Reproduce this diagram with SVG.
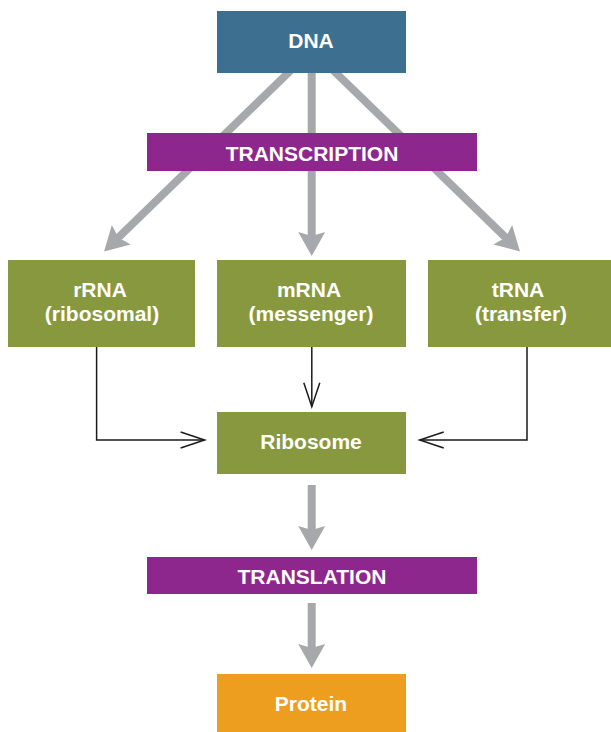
<svg xmlns="http://www.w3.org/2000/svg" width="611" height="732" viewBox="0 0 611 732">
<style>
.t{font-family:"Liberation Sans",Arial,sans-serif;font-weight:bold;font-size:21px;fill:#ffffff;text-anchor:middle}
.g{stroke:#a7a8ab;stroke-width:8;fill:none;marker-end:url(#ga)}
.k{stroke:#1a1a1a;stroke-width:1.5;fill:none;marker-end:url(#ka)}
.blue{fill:#3d7090}.purple{fill:#8d278e}.green{fill:#87983e}.orange{fill:#ee9e1f}
</style>
<defs>
<marker id="ga" markerUnits="userSpaceOnUse" orient="auto" refX="0" refY="0" markerWidth="40" markerHeight="40" overflow="visible">
<path d="M10,0 L-14,-13.5 L-10,0 L-14,13.5 Z" fill="#a7a8ab"/>
</marker>
<marker id="ka" markerUnits="userSpaceOnUse" orient="auto" refX="0" refY="0" markerWidth="40" markerHeight="40" overflow="visible">
<path d="M-24,-8 L0,0 L-24,8" fill="none" stroke="#1a1a1a" stroke-width="1.5"/>
</marker>
</defs>
<g id="connectors">
<line class="g" x1="295.2" y1="66" x2="111.2" y2="244.5"/>
<line class="g" x1="311.7" y1="70" x2="311.7" y2="246"/>
<line class="g" x1="328.8" y1="66" x2="512.8" y2="244.5"/>
<line class="g" x1="311.7" y1="485" x2="311.7" y2="540"/>
<line class="g" x1="311.7" y1="603" x2="311.7" y2="658"/>
<path class="k" d="M96.6,347 V440 H204.6"/>
<path class="k" d="M311.8,347 V406.7"/>
<path class="k" d="M527,347 V440 H419.7"/>
</g>
<g id="dna"><rect class="blue" x="217" y="11" width="189" height="62"/><text class="t" x="311" y="48">DNA</text></g>
<g id="transcription"><rect class="purple" x="147" y="133" width="330" height="38"/><text class="t" x="312" y="161">TRANSCRIPTION</text></g>
<g id="rrna"><rect class="green" x="8" y="260" width="187" height="87"/><text class="t" x="100" y="297">rRNA</text><text class="t" x="102" y="321">(ribosomal)</text></g>
<g id="mrna"><rect class="green" x="217" y="260" width="189" height="87"/><text class="t" x="309" y="297">mRNA</text><text class="t" x="311" y="321">(messenger)</text></g>
<g id="trna"><rect class="green" x="428" y="260" width="183" height="87"/><text class="t" x="518" y="297">tRNA</text><text class="t" x="521" y="321">(transfer)</text></g>
<g id="ribosome"><rect class="green" x="217" y="412" width="189" height="62"/><text class="t" x="311" y="449">Ribosome</text></g>
<g id="translation"><rect class="purple" x="147" y="557" width="330" height="37"/><text class="t" x="312" y="584">TRANSLATION</text></g>
<g id="protein"><rect class="orange" x="217" y="674" width="189" height="58"/><text class="t" x="311" y="711">Protein</text></g>
</svg>
